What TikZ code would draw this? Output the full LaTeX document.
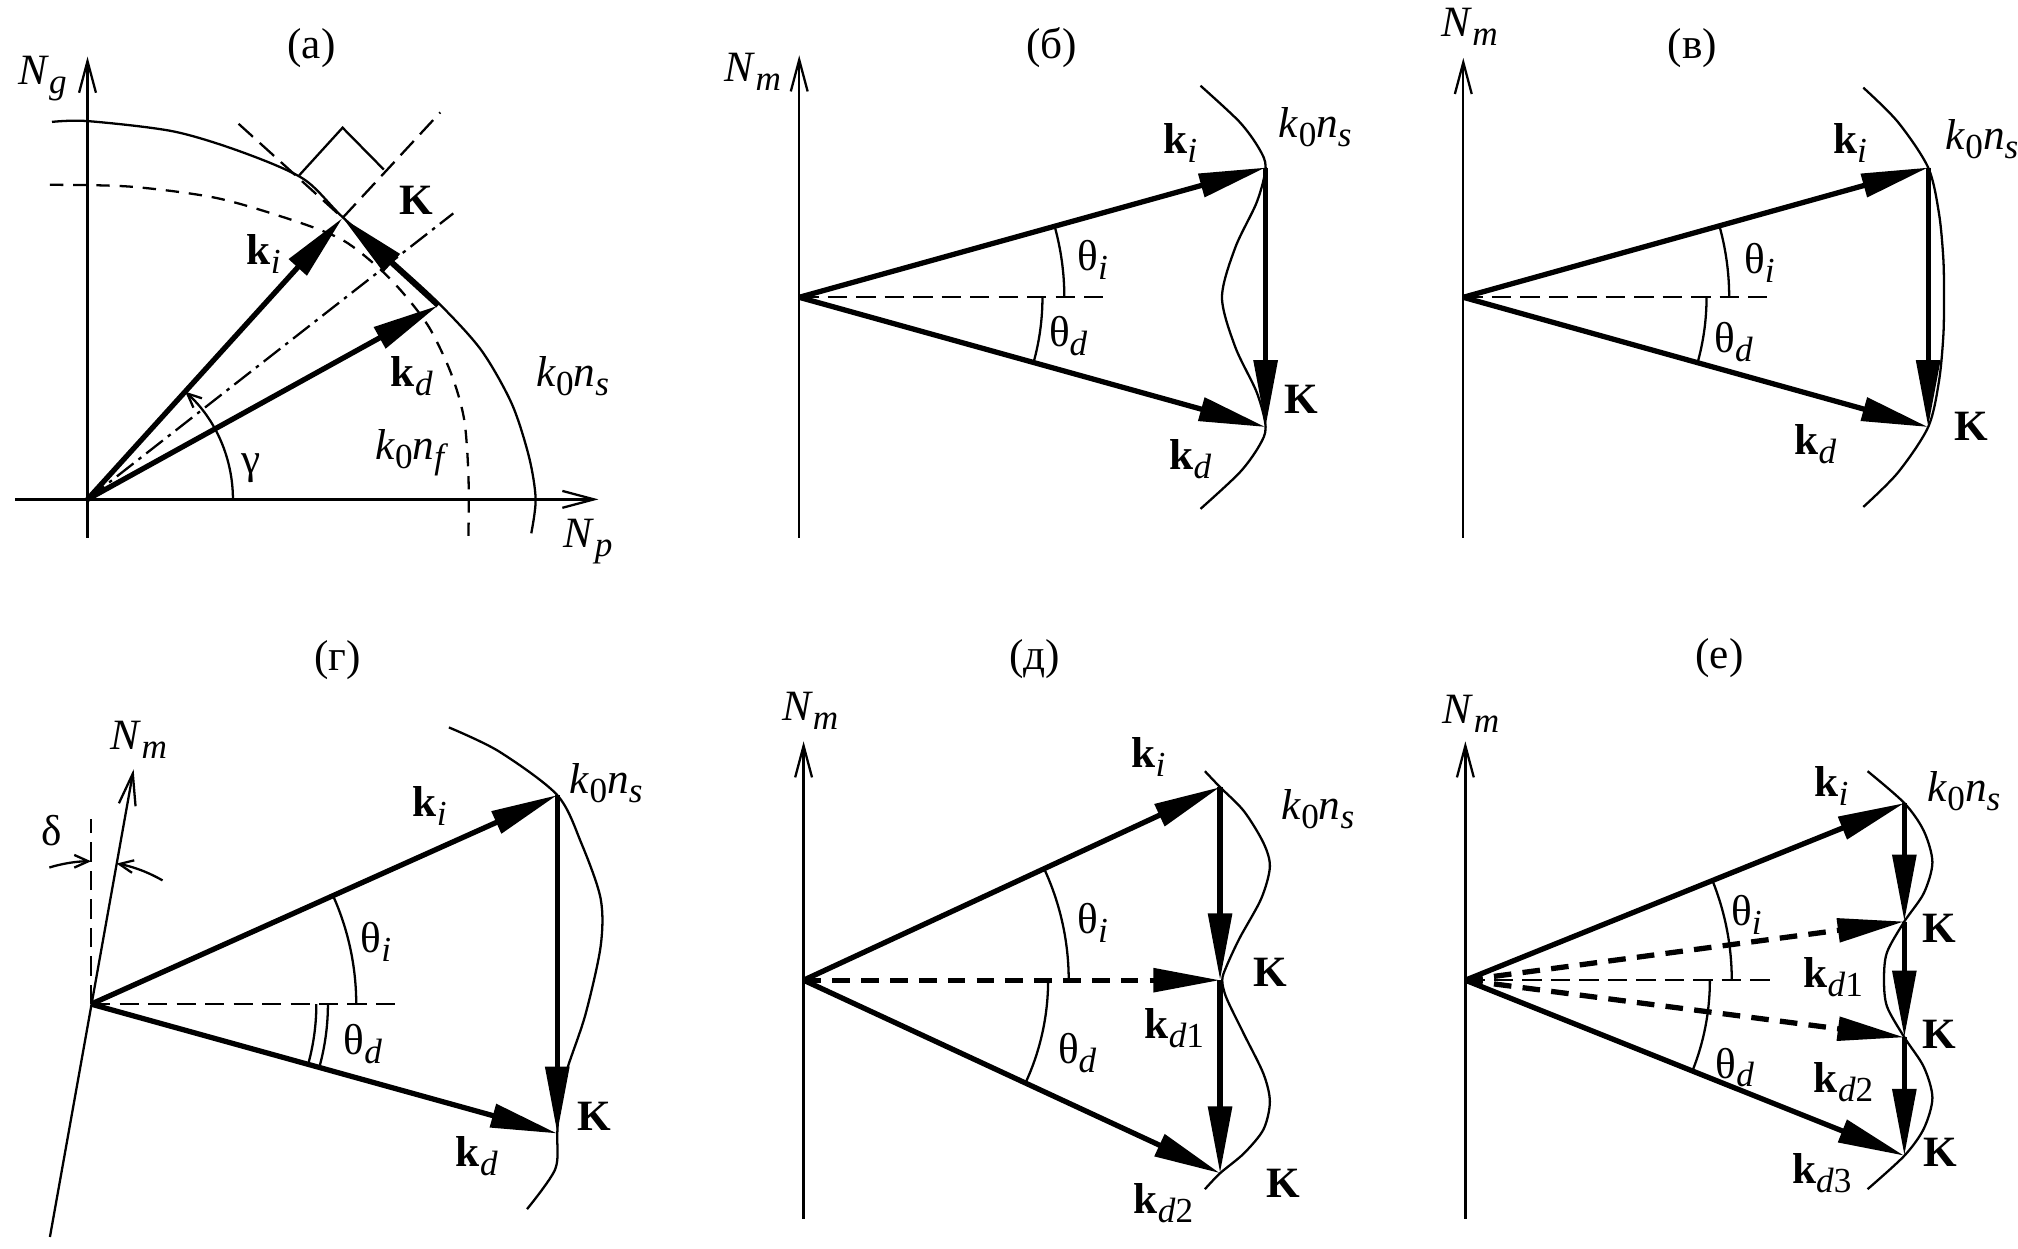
\documentclass[tikz,border=0pt]{standalone}
\usepackage{fontspec}
\setmainfont{Liberation Serif}
\usetikzlibrary{arrows.meta}
\newcommand{\sbs}[1]{\raisebox{-0.45ex}{\fontsize{10}{10}\selectfont #1}}
\newcommand{\kv}[1]{\textbf{k}\sbs{\textit{#1}}}
\newcommand{\kns}{\textit{k}\sbs{0}\textit{n}\sbs{\textit{s}}}
\newcommand{\knf}{\textit{k}\sbs{0}\textit{n}\sbs{\textit{f}}}
\newcommand{\Nl}[1]{\textit{N}\sbs{\textit{#1}}}
\newcommand{\thl}[1]{θ\sbs{\textit{#1}}}
\begin{document}
\begin{tikzpicture}[x=0.01287cm,y=-0.01287cm,
  vec/.style={line width=1.5pt,-{Triangle[length=19pt,width=6.6pt]}},
  dvec/.style={line width=1.5pt,dash pattern=on 5pt off 3.2pt,-{Triangle[length=19pt,width=6.6pt]}},
  ax/.style={line width=0.65pt,-{Straight Barb[length=9pt,width=4.8pt]}},
  thinl/.style={line width=0.65pt},
  refdash/.style={line width=0.65pt,dash pattern=on 5.5pt off 2.6pt},
  sbarb/.style={line width=0.65pt,-{Straight Barb[length=4pt,width=3.6pt]}},
  lbl/.style={inner sep=0pt,font=\fontsize{12.3}{14}\selectfont}]
\useasboundingbox (0,0) rectangle (1568,970);

% ---------------- panel (a)
\node[lbl] (la) at (242,37) {(а)};
\coordinate (aO) at (68,388);
\coordinate (aNgB) at (68,418);
\coordinate (aNgT) at (68,44);
\coordinate (aNpL) at (12,388);
\coordinate (aNpR) at (465,388);
\coordinate (aKi) at (266.2,169.3);
\coordinate (aKd) at (340.4,237.4);
\coordinate (aDD) at (352.2,165.8);
\coordinate (aKiE) at (342.1,87.3);
\coordinate (aKE) at (185.4,96.2);
\coordinate (aR1) at (232.5,136.2);
\coordinate (aR2) at (266.2,99.2);
\coordinate (aR3) at (298.2,131.7);
\draw[ax] (aNgB) -- (aNgT);
\draw[ax] (aNpL) -- (aNpR);
\node[lbl] (aNg) at (33,61) {\Nl{g}};
\node[lbl] (aNp) at (457,421) {\Nl{p}};
\draw[thinl] plot[smooth] coordinates {(40.4,94.7) (68.4,94.1) (134.8,102.1) (188.7,118.4) (235.9,139.1) (266.2,168.7) (306.7,204.2) (342.1,236.8) (374.1,272.3) (397.7,313.8) (411.1,355.2) (416.2,387.8) (412.8,414.4)};
\draw[thinl,dash pattern=on 3.8pt off 2.8pt] plot[smooth] coordinates {(38.8,143.6) (101.1,145) (168.5,153.9) (229.2,171.7) (266.2,186.5) (293.2,207.2) (313.4,227.9) (333.6,254.6) (350.5,290.1) (360.6,325.6) (364,370) (364,417.4)};
\draw[refdash] (aKE) -- (aKi);
\draw[refdash] (aKi) -- (aKiE);
\draw[thinl] (aR1) -- (aR2) -- (aR3);
\draw[thinl,dash pattern=on 6pt off 1.8pt on 1pt off 1.8pt] (aO) -- (aDD);
\draw[sbarb] (aO) ++(0:113) arc[start angle=0,end angle=-47.8,radius=113];
\draw[vec] (aO) -- (aKi);
\draw[vec] (aO) -- (aKd);
\draw[vec] (aKd) -- (aKi);
\node[lbl] (aK) at (323.5,156) {\textbf{K}};
\node[lbl] (aki) at (205,197) {\kv{i}};
\node[lbl] (akd) at (320,292) {\kv{d}};
\node[lbl] (akns) at (445,292) {\kns};
\node[lbl] (aknf) at (320,352) {\knf};
\node[lbl] (agam) at (195,364) {γ};

% ---------------- panel (b)
\node[lbl] (lb) at (817,37) {(б)};
\coordinate (bO) at (621,231);
\coordinate (bAB) at (621,418);
\coordinate (bAT) at (621,43);
\coordinate (bKi) at (983.4,130.2);
\coordinate (bKd) at (983.4,331.8);
\coordinate (bH) at (860,231);
\draw[ax] (bAB) -- (bAT);
\node[lbl] (bNm) at (585,56) {\Nl{m}};
\draw[refdash] (bO) -- (bH);
\draw[thinl] (bO) ++(0:206) arc[start angle=0,end angle=-15.55,radius=206];
\draw[thinl] (bO) ++(0:189) arc[start angle=0,end angle=15.55,radius=189];
\draw[thinl] plot[smooth] coordinates {(932.8,66.6) (963.1,94.7) (978.3,115.4) (983.4,130.2) (976.6,156.9) (959.8,192.4) (949.5,231) (959.8,269.6) (976.6,305.1) (983.4,331.8) (978.3,346.6) (963.1,367.3) (932.8,395.4)};
\draw[vec] (bO) -- (bKi);
\draw[vec] (bO) -- (bKd);
\draw[vec] (bKi) -- (bKd);
\node[lbl] (bki) at (917,111) {\kv{i}};
\node[lbl] (bkns) at (1022,99) {\kns};
\node[lbl] (bthi) at (849,202) {\thl{i}};
\node[lbl] (bthd) at (830,261) {\thl{d}};
\node[lbl] (bK) at (1011,310) {\textbf{K}};
\node[lbl] (bkd) at (925,357) {\kv{d}};

% ---------------- panel (v)
\node[lbl] (lv) at (1315,37) {(в)};
\coordinate (vO) at (1137,231);
\coordinate (vAB) at (1137,418);
\coordinate (vAT) at (1137,45);
\coordinate (vKi) at (1498.2,130.2);
\coordinate (vKd) at (1498.2,331.8);
\coordinate (vH) at (1374,231);
\draw[ax] (vAB) -- (vAT);
\node[lbl] (vNm) at (1142,21) {\Nl{m}};
\draw[refdash] (vO) -- (vH);
\draw[thinl] (vO) ++(0:206.6) arc[start angle=0,end angle=-15.6,radius=206.6];
\draw[thinl] (vO) ++(0:189) arc[start angle=0,end angle=15.6,radius=189];
\draw[thinl] plot[smooth] coordinates {(1447.8,68.1) (1474.6,94.7) (1498.2,130.2) (1506.6,165.8) (1510,201.3) (1510.5,231) (1510,260.7) (1506.6,296.2) (1498.2,331.8) (1474.6,367.3) (1447.8,393.9)};
\draw[vec] (vO) -- (vKi);
\draw[vec] (vO) -- (vKd);
\draw[vec] (vKi) -- (vKd);
\node[lbl] (vki) at (1437.5,111) {\kv{i}};
\node[lbl] (vkns) at (1540,108) {\kns};
\node[lbl] (vthi) at (1367,204) {\thl{i}};
\node[lbl] (vthd) at (1347,266) {\thl{d}};
\node[lbl] (vK) at (1532,331) {\textbf{K}};
\node[lbl] (vkd) at (1410.5,345) {\kv{d}};

% ---------------- panel (g)
\node[lbl] (lg) at (262.5,513) {(г)};
\coordinate (gO) at (70.8,780.2);
\coordinate (gAB) at (38.8,961.1);
\coordinate (gAT) at (103.8,597.7);
\coordinate (gV) at (70.8,636);
\coordinate (gH) at (309,780.2);
\coordinate (gKi) at (433,617.8);
\coordinate (gKd) at (433,880.7);
\draw[ax] (gAB) -- (gAT);
\node[lbl] (gNm) at (108,575) {\Nl{m}};
\draw[refdash] (gO) -- (gV);
\draw[refdash] (gO) -- (gH);
\draw[sbarb] (gO) ++(-107:111) arc[start angle=-107,end angle=-90,radius=111];
\draw[sbarb] (gO) ++(-60:111) arc[start angle=-60,end angle=-79.75,radius=111];
\node[lbl] (gdel) at (40.5,645.5) {δ};
\draw[thinl] (gO) ++(0:206) arc[start angle=0,end angle=-24.15,radius=206];
\draw[thinl] (gO) ++(0:175) arc[start angle=0,end angle=15.5,radius=175];
\draw[thinl] (gO) ++(0:184) arc[start angle=0,end angle=15.5,radius=184];
\draw[thinl] plot[smooth] coordinates {(348.8,565.2) (387.6,583.8) (433,617.8) (451.6,654.9) (466.7,698.2) (466.7,735.3) (455,787.9) (441.5,828.1) (434.7,852.9) (433,880.7) (431.4,908.5) (409.5,939.5)};
\draw[vec] (gO) -- (gKi);
\draw[vec] (gO) -- (gKd);
\draw[vec] (gKi) -- (gKd);
\node[lbl] (gki) at (334,626) {\kv{i}};
\node[lbl] (gkns) at (471,608.5) {\kns};
\node[lbl] (gthi) at (292,732) {\thl{i}};
\node[lbl] (gthd) at (282,811.5) {\thl{d}};
\node[lbl] (gK) at (461.7,867) {\textbf{K}};
\node[lbl] (gkd) at (370.5,898) {\kv{d}};

% ---------------- panel (d)
\node[lbl] (ld) at (804,512) {(д)};
\coordinate (dO) at (624.4,761.6);
\coordinate (dAB) at (624.4,947);
\coordinate (dAT) at (624.4,576);
\coordinate (dKi) at (948,611.6);
\coordinate (dKa) at (948,761.6);
\coordinate (dKb) at (948,911.6);
\draw[ax] (dAB) -- (dAT);
\node[lbl] (dNm) at (629.5,552) {\Nl{m}};
\draw[thinl] (dO) ++(0:206) arc[start angle=0,end angle=-24.87,radius=206];
\draw[thinl] (dO) ++(0:190) arc[start angle=0,end angle=24.87,radius=190];
\draw[thinl] plot[smooth] coordinates {(936.2,599.2) (948,611.6) (966.5,630.2) (981.7,654.9) (986.7,673.5) (980,698.2) (963.1,729.1) (953,750.8) (949.7,761.6) (953,775.5) (966.5,803.4) (981.7,834.3) (986.7,856) (981.7,877.6) (966.5,896.2) (948,911.6) (936.2,924)};
\draw[vec] (dO) -- (dKi);
\draw[dvec] (dO) -- (dKa);
\draw[vec] (dO) -- (dKb);
\draw[vec] (dKi) -- (dKa);
\draw[vec] (dKa) -- (dKb);
\node[lbl] (dki) at (892.4,588) {\kv{i}};
\node[lbl] (dkns) at (1024,629) {\kns};
\node[lbl] (dthi) at (849,717) {\thl{i}};
\node[lbl] (dK1) at (987,755.5) {\textbf{K}};
\node[lbl] (dkd1) at (912.5,799) {\textbf{k}\sbs{\textit{d}1}};
\node[lbl] (dthd) at (837,818.5) {\thl{d}};
\node[lbl] (dK2) at (997,919.5) {\textbf{K}};
\node[lbl] (dkd2) at (904,935) {\textbf{k}\sbs{\textit{d}2}};

% ---------------- panel (e)
\node[lbl] (le) at (1336,511) {(е)};
\coordinate (eO) at (1138.6,761.6);
\coordinate (eAB) at (1138.6,947);
\coordinate (eAT) at (1138.6,576);
\coordinate (eH) at (1377,761.6);
\coordinate (eKi) at (1479.7,624);
\coordinate (eKa) at (1479.7,716);
\coordinate (eKb) at (1479.7,806);
\coordinate (eKc) at (1479.7,898);
\draw[ax] (eAB) -- (eAT);
\node[lbl] (eNm) at (1143,555) {\Nl{m}};
\draw[refdash] (eO) -- (eH);
\draw[thinl] (eO) ++(0:207) arc[start angle=0,end angle=-21.97,radius=207];
\draw[thinl] (eO) ++(0:190) arc[start angle=0,end angle=21.8,radius=190];
\draw[thinl] plot[smooth] coordinates {(1451.1,599.2) (1479.7,624) (1494.8,645.6) (1501.5,670) (1494.8,694) (1479.7,716) (1466.2,740) (1463.9,761) (1466.2,782) (1479.7,806) (1494.8,829) (1501.5,853) (1494.8,877) (1479.7,898) (1451.1,924)};
\draw[vec] (eO) -- (eKi);
\draw[dvec] (eO) -- (eKa);
\draw[dvec] (eO) -- (eKb);
\draw[vec] (eO) -- (eKc);
\draw[vec] (eKi) -- (eKa);
\draw[vec] (eKa) -- (eKb);
\draw[vec] (eKb) -- (eKc);
\node[lbl] (eki) at (1423,611) {\kv{i}};
\node[lbl] (ekns) at (1526,614.5) {\kns};
\node[lbl] (ethi) at (1357,711) {\thl{i}};
\node[lbl] (eK1) at (1506.5,721.5) {\textbf{K}};
\node[lbl] (ekd1) at (1424.5,759) {\textbf{k}\sbs{\textit{d}1}};
\node[lbl] (eK2) at (1506.5,804) {\textbf{K}};
\node[lbl] (ekd2) at (1432.5,840.5) {\textbf{k}\sbs{\textit{d}2}};
\node[lbl] (ethd) at (1348,829.5) {\thl{d}};
\node[lbl] (eK3) at (1507.5,895.5) {\textbf{K}};
\node[lbl] (ekd3) at (1415.5,911.5) {\textbf{k}\sbs{\textit{d}3}};
\end{tikzpicture}
\end{document}
